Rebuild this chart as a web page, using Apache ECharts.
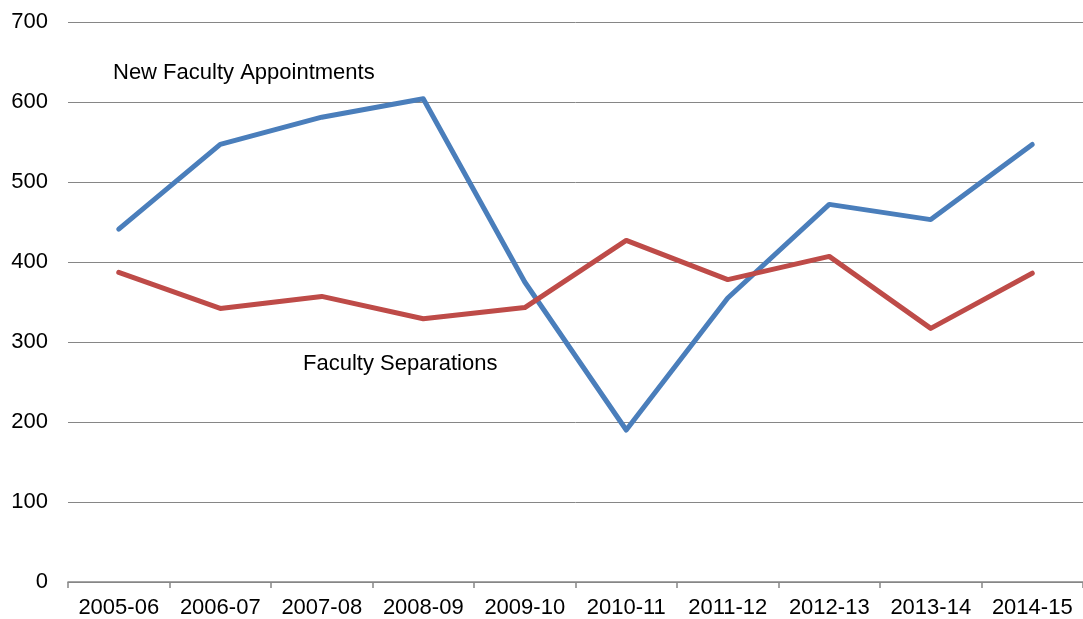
<!DOCTYPE html>
<html>
<head>
<meta charset="UTF-8">
<title>Faculty appointments and separations</title>
<script src="https://cdn.jsdelivr.net/npm/echarts@6/dist/echarts.min.js"></script>
<style>
  html, body { margin: 0; padding: 0; background: #fff; }
  #main { width: 1083px; height: 619px; }
</style>
</head>
<body>
<div id="main"></div>
<script type="text/javascript">
// data
var years = ['2005-06', '2006-07', '2007-08', '2008-09', '2009-10',
             '2010-11', '2011-12', '2012-13', '2013-14', '2014-15'];
var appointments = [441, 547, 581, 604, 375, 190, 355, 472, 453, 547];
var separations = [387, 342, 357, 329, 343, 427, 378, 407, 317, 386];
var yTicks = [0, 100, 200, 300, 400, 500, 600, 700];

var myChart = echarts.init(document.getElementById('main'));

var option = {
  animation: false,
  textStyle: { fontFamily: 'Liberation Sans, Arial, sans-serif' },
  grid: { left: 68, top: 22, width: 1020, height: 560 },
  xAxis: {
    type: 'category',
    data: years,
    boundaryGap: true,
    axisLine: { lineStyle: { color: '#868686', width: 1.5 } },
    axisTick: { show: true, interval: 0, length: 6, lineStyle: { color: '#868686', width: 1.5 } },
    axisLabel: { color: '#000', fontSize: 22, margin: 15, interval: 0, hideOverlap: false }
  },
  yAxis: {
    type: 'value',
    min: yTicks[0],
    max: yTicks[yTicks.length - 1],
    interval: 100,
    axisLine: { show: false },
    axisTick: { show: false },
    axisLabel: { color: '#000', fontSize: 22, margin: 20 },
    splitLine: { lineStyle: { color: '#868686', width: 1 } }
  },
  series: [{
    name: 'New Faculty Appointments',
    type: 'line',
    data: appointments,
    showSymbol: false,
    lineStyle: { color: '#4a7ebb', width: 5, cap: 'round', join: 'round' }
  }, {
    name: 'Faculty Separations',
    type: 'line',
    data: separations,
    showSymbol: false,
    lineStyle: { color: '#be4b48', width: 5, cap: 'round', join: 'round' }
  }],
  graphic: [{
    type: 'text',
    left: 113,
    top: 62,
    style: { text: 'New Faculty Appointments', fill: '#000', fontSize: 22,
             fontFamily: 'Liberation Sans, Arial, sans-serif' }
  }, {
    type: 'text',
    left: 303,
    top: 353,
    style: { text: 'Faculty Separations', fill: '#000', fontSize: 22,
             fontFamily: 'Liberation Sans, Arial, sans-serif' }
  }]
};

myChart.setOption(option);
</script>
</body>
</html>
